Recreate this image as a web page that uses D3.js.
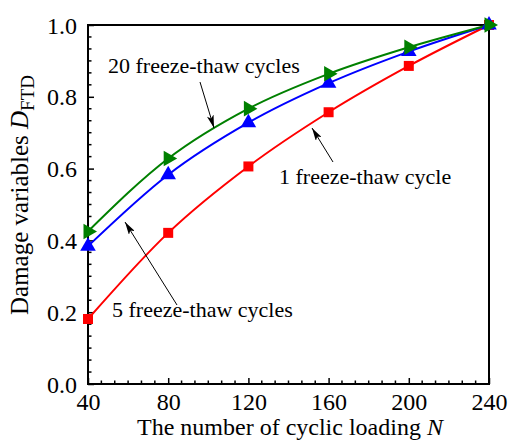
<!DOCTYPE html>
<html>
<head>
<meta charset="utf-8">
<script src="https://cdn.jsdelivr.net/npm/d3@7"></script>
<style>
  html, body { margin: 0; padding: 0; background: #fff; }
  svg { display: block; }
  text { font-family: "Liberation Serif", "Times New Roman", serif; fill: #000; }
</style>
</head>
<body>
<svg id="chart" width="508" height="446"></svg>
<script>
// ---- data ----
const cyclicLoading = [40, 80, 120, 160, 200, 240];
const ft1  = [0.181, 0.421, 0.606, 0.757, 0.886, 1.0];   // 1 freeze-thaw cycle
const ft5  = [0.384, 0.583, 0.728, 0.838, 0.926, 1.0];   // 5 freeze-thaw cycles
const ft20 = [0.425, 0.628, 0.767, 0.864, 0.938, 1.0];   // 20 freeze-thaw cycles
const xTickValues = [40, 80, 120, 160, 200, 240];
const yTickValues = [0.0, 0.2, 0.4, 0.6, 0.8, 1.0];
const seriesNames = ["1 freeze-thaw cycle", "5 freeze-thaw cycles", "20 freeze-thaw cycles"];
const seriesColors = ["#ff0000", "#0000ff", "#008000"];

const series = [
  { name: seriesNames[0], values: ft1,  color: seriesColors[0], marker: "square" },
  { name: seriesNames[1], values: ft5,  color: seriesColors[1], marker: "triUp" },
  { name: seriesNames[2], values: ft20, color: seriesColors[2], marker: "triRight" }
];

const svg = d3.select("#chart");
const L = 88, R = 489, T = 25, B = 384;
const x = d3.scaleLinear().domain([40, 240]).range([L, R]);
const y = d3.scaleLinear().domain([0, 1]).range([B, T]);

// arrow marker
svg.append("defs").append("marker")
  .attr("id", "arrow").attr("viewBox", "0 0 13 7")
  .attr("refX", 13).attr("refY", 3.5)
  .attr("markerWidth", 13).attr("markerHeight", 7)
  .attr("markerUnits", "userSpaceOnUse")
  .attr("orient", "auto")
  .append("path").attr("d", "M0,0 L13,3.5 L0,7 L3,3.5 Z").attr("fill", "#000");

// minor ticks
const xStep = 40 / 6, yStep = 0.2 / 6;
const xMinor = d3.range(40, 240 + 1e-9, xStep).filter(v => !xTickValues.some(t => Math.abs(t - v) < 1e-6));
const yMinor = d3.range(0, 1 + 1e-9, yStep).filter(v => !yTickValues.some(t => Math.abs(t - v) < 1e-6));

const axes = svg.append("g");
// x axis
const xAxis = d3.axisBottom(x).tickValues(xTickValues).tickSize(-6).tickPadding(12).tickFormat(d3.format("d"));
const gx = axes.append("g").attr("transform", `translate(0,${B})`).call(xAxis);
gx.select(".domain").remove();
gx.selectAll(".tick line").attr("stroke", "#000").attr("stroke-width", 1.5);
gx.selectAll(".tick text").attr("font-size", 24).attr("font-family", "Liberation Serif").attr("dy", "0.71em").attr("y", 9);
gx.selectAll(".minor").data(xMinor).enter().append("line")
  .attr("x1", d => x(d)).attr("x2", d => x(d)).attr("y1", 0).attr("y2", -3.5)
  .attr("stroke", "#000").attr("stroke-width", 1.5);

// y axis
const yAxis = d3.axisLeft(y).tickValues(yTickValues).tickSize(-6).tickPadding(11).tickFormat(d3.format(".1f"));
const gy = axes.append("g").attr("transform", `translate(${L},0)`).call(yAxis);
gy.select(".domain").remove();
gy.selectAll(".tick line").attr("stroke", "#000").attr("stroke-width", 1.5);
gy.selectAll(".tick text").attr("font-size", 24).attr("font-family", "Liberation Serif").attr("dy", "0.34em");
gy.selectAll(".minor").data(yMinor).enter().append("line")
  .attr("x1", 0).attr("x2", 3.5).attr("y1", d => y(d)).attr("y2", d => y(d))
  .attr("stroke", "#000").attr("stroke-width", 1.5);

// frame
svg.append("rect").attr("x", L).attr("y", T).attr("width", R - L).attr("height", B - T)
  .attr("fill", "none").attr("stroke", "#000").attr("stroke-width", 2);

// lines
const line = d3.line().x((d, i) => x(cyclicLoading[i])).y(d => y(d)).curve(d3.curveMonotoneX);
const gLines = svg.append("g");
series.forEach(s => {
  gLines.append("path").datum(s.values).attr("d", line)
    .attr("fill", "none").attr("stroke", s.color).attr("stroke-width", 2);
});

// markers
const sym = {
  square: d3.symbol().type(d3.symbolSquare).size(100),
  triUp: d3.symbol().type(d3.symbolTriangle).size(105),
  triRight: d3.symbol().type(d3.symbolTriangle).size(105)
};
series.forEach(s => {
  svg.append("g").selectAll("path").data(s.values).enter().append("path")
    .attr("d", sym[s.marker])
    .attr("transform", (d, i) => `translate(${x(cyclicLoading[i])},${y(d)})` + (s.marker === "triRight" ? " rotate(90)" : ""))
    .attr("fill", s.color);
});

// annotations
const ann = svg.append("g");
ann.append("text").attr("x", 108).attr("y", 73).attr("font-size", 22).text(seriesNames[2]);
ann.append("line").attr("x1", 200).attr("y1", 82).attr("x2", 214).attr("y2", 128)
  .attr("stroke", "#000").attr("stroke-width", 1).attr("marker-end", "url(#arrow)");

ann.append("text").attr("x", 279).attr("y", 184).attr("font-size", 22).text(seriesNames[0]);
ann.append("line").attr("x1", 333).attr("y1", 162).attr("x2", 312).attr("y2", 128)
  .attr("stroke", "#000").attr("stroke-width", 1).attr("marker-end", "url(#arrow)");

ann.append("text").attr("x", 112).attr("y", 317).attr("font-size", 22).text(seriesNames[1]);
ann.append("line").attr("x1", 177).attr("y1", 305).attr("x2", 125).attr("y2", 222)
  .attr("stroke", "#000").attr("stroke-width", 1).attr("marker-end", "url(#arrow)");

// axis titles
const xt = svg.append("text").attr("x", 290).attr("y", 435).attr("text-anchor", "middle").attr("font-size", 24);
xt.append("tspan").text("The number of cyclic loading ");
xt.append("tspan").attr("font-style", "italic").text("N");

const yt = svg.append("text").attr("transform", "translate(28,195) rotate(-90)").attr("text-anchor", "middle").attr("font-size", 25);
yt.append("tspan").text("Damage variables ");
yt.append("tspan").attr("font-style", "italic").text("D");
yt.append("tspan").attr("font-size", 19).attr("dy", 6).text("FTD");
</script>
</body>
</html>
